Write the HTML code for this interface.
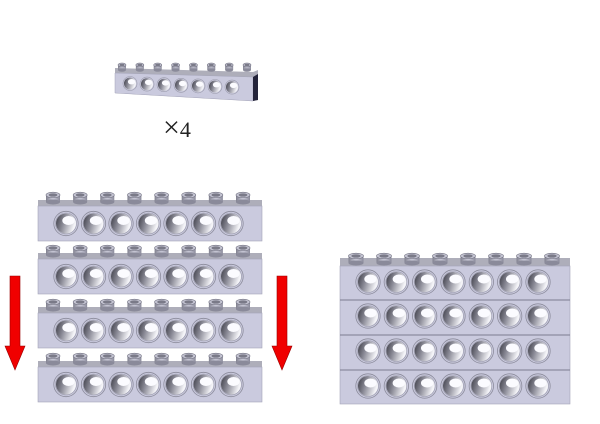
<!DOCTYPE html>
<html><head><meta charset="utf-8"><style>
html,body{margin:0;padding:0;background:#fff;width:600px;height:424px;overflow:hidden}
svg{display:block}
</style></head><body>
<svg id="s" width="600" height="424" viewBox="0 0 600 424" xmlns="http://www.w3.org/2000/svg">
<defs>
<linearGradient id="hole" x1="0" y1="0" x2="1" y2="0.3">
<stop offset="0" stop-color="#3a3a44"/><stop offset="0.45" stop-color="#8a8a96"/><stop offset="1" stop-color="#f4f4f8"/>
</linearGradient>
<linearGradient id="stud" x1="0" y1="0" x2="1" y2="0">
<stop offset="0" stop-color="#80808e"/><stop offset="0.5" stop-color="#d0d0de"/><stop offset="1" stop-color="#8a8a9a"/>
</linearGradient>
</defs>
<text x="163" y="137" font-family="Liberation Serif, serif" fill="#222"><tspan font-size="30" font-weight="normal">×</tspan><tspan font-size="22">4</tspan></text>
<g><polygon points="10,276 20,276 20,346 25,346 15,370 5,346 10,346" fill="#f00000" stroke="#900" stroke-width="0.6"/></g>
<g><polygon points="277,276 287,276 287,346 292,346 282,370 272,346 277,346" fill="#f00000" stroke="#900" stroke-width="0.6"/></g>
</svg>
<script>
const NS='http://www.w3.org/2000/svg';
const svg=document.getElementById('s');
const holeCount=7, studCount=8;
const leftBrickTops=[200,253,307,361];
const rightRowTops=[266,300,335,370];
function el(tag,attrs,parent){const e=document.createElementNS(NS,tag);for(const k in attrs)e.setAttribute(k,attrs[k]);(parent||svg).appendChild(e);return e;}
function studs(g,x0,x1,y,w,h){
  const step=(x1-x0)/(studCount-1);
  for(let i=0;i<studCount;i++){
    const cx=x0+i*step;
    const s=el('g',{},g);
    
    
    el('rect',{x:cx-w/2,y:y,width:w,height:h,fill:'url(#stud)'},s);
    el('ellipse',{cx:cx,cy:y+h,rx:w/2,ry:h*0.35,fill:'#8a8a9a'},s);
    el('ellipse',{cx:cx,cy:y,rx:w/2,ry:h*0.4,fill:'#c4c4d2',stroke:'#6c6c7c','stroke-width':0.6},s);
    el('ellipse',{cx:cx,cy:y,rx:w/3.2,ry:h*0.24,fill:'#7a7a88'},s);
  }
}
function holes(g,x0,x1,cy,r){
  const step=(x1-x0)/(holeCount-1);
  for(let i=0;i<holeCount;i++){
    const cx=x0+i*step;
    const h=el('g',{},g);
    
    
    el('circle',{cx:cx,cy:cy,r:r*1.22,fill:'none',stroke:'#8c8c9c','stroke-width':0.8},h);
    el('circle',{cx:cx,cy:cy,r:r*1.05,fill:'none',stroke:'#9a9aaa','stroke-width':0.6},h);
    el('circle',{cx:cx,cy:cy,r:r,fill:'url(#hole)'},h);
    el('ellipse',{cx:cx+r*0.25,cy:cy-r*0.3,rx:r*0.62,ry:r*0.45,fill:'#fbfbff'},h);
  }
}
function brick(x,y,w,topH,frontH,name,holeR,studW,studH,hx0,hx1,sx0,sx1){
  const g=el('g',{});
  
  
  el('rect',{x:x,y:y,width:w,height:topH,fill:'#aeaeba'},g);
  studs(g,sx0,sx1,y-studH+2,studW,studH);
  el('rect',{x:x,y:y+topH,width:w,height:frontH,fill:'#cacade',stroke:'#a4a4b8','stroke-width':0.6},g);
  holes(g,hx0,hx1,y+topH+frontH*0.5,holeR);
  return g;
}
const sb=el('g',{});


el('polygon',{points:'115,68 253,72 258,70 258,100 253,101 115,93',fill:'#aeaeba'},sb);
studs(sb,122,247,65,8,5);
el('polygon',{points:'115,73 253,77 253,101 115,93',fill:'#cacade',stroke:'#a4a4b8','stroke-width':0.5},sb);
el('polygon',{points:'253,77 258,74 258,100 253,101',fill:'#24243a'},sb);
{const step=(232-130)/(holeCount-1);for(let i=0;i<holeCount;i++){const cx=130+i*step,cy=83.5+i*0.6;
const h=el('g',{},sb);
el('circle',{cx:cx,cy:cy,r:7,fill:'none',stroke:'#9a9aaa','stroke-width':0.6},h);
el('circle',{cx:cx,cy:cy,r:6,fill:'url(#hole)'},h);
el('ellipse',{cx:cx+1.5,cy:cy-1.8,rx:3.6,ry:2.7,fill:'#fbfbff'},h);}}
leftBrickTops.forEach((t,i)=>{brick(38,t,224,6,35,'left-brick-'+(i+1),10,14,7,66,231,53,243);});
const rg=el('g',{});


el('rect',{x:340,y:258,width:230,height:8,fill:'#aeaeba'},rg);
studs(rg,356,552,256,15,7);
el('rect',{x:340,y:266,width:230,height:138,fill:'#cacade',stroke:'#a4a4b8','stroke-width':0.6},rg);
rightRowTops.forEach((t,i)=>{
  if(i>0) el('line',{x1:340,y1:t,x2:570,y2:t,stroke:'#7c7c90','stroke-width':1},rg);
  holes(rg,368,538,t+16,10);
});
</script>
</body></html>
